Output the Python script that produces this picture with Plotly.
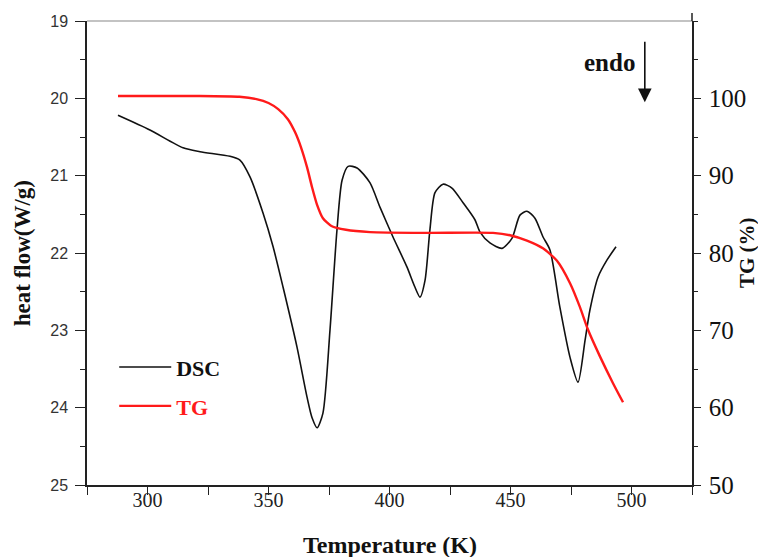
import plotly.graph_objects as go

# DSC curve (heat flow, W/g) vs temperature (K)
dsc_T = [287.8, 301.0, 314.7, 321.7, 334.1, 338.2, 342.4, 347.7, 351.9, 356.0,
         361.8, 365.9, 368.0, 370.1, 372.5, 375.4, 378.3, 380.4, 382.9, 386.6,
         391.9, 396.1, 401.4, 407.2, 410.5, 412.6, 414.7, 416.7, 418.8, 422.1,
         425.8, 430.4, 435.3, 437.4, 441.5, 446.5, 450.6, 453.9, 456.8, 460.1,
         463.4, 466.3, 470.4, 474.6, 477.9, 480.8, 482.8, 486.2, 489.9, 493.6]
dsc_HF = [20.22, 20.41, 20.64, 20.69, 20.75, 20.80, 21.02, 21.48, 21.92, 22.44,
          23.22, 23.86, 24.13, 24.26, 24.07, 23.00, 21.70, 21.06, 20.88, 20.90,
          21.09, 21.41, 21.79, 22.18, 22.44, 22.57, 22.35, 21.70, 21.22, 21.11,
          21.16, 21.35, 21.57, 21.73, 21.87, 21.94, 21.81, 21.51, 21.46, 21.55,
          21.79, 21.96, 22.70, 23.35, 23.67, 23.13, 22.74, 22.31, 22.09, 21.92]

# TG curve (%) vs temperature (K)
tg_T = [287.8, 320.0, 338.0, 345.0, 350.0, 354.0, 358.0, 361.0, 363.5, 366.0,
        368.0, 370.0, 372.5, 376.0, 382.0, 392.0, 415.5, 442.8, 449.8, 456.8,
        463.4, 469.2, 474.6, 478.7, 482.0, 487.0, 492.3, 496.5]
tg_pct = [100.3, 100.3, 100.2, 99.9, 99.4, 98.6, 97.3, 95.6, 93.6, 91.0,
          88.5, 86.3, 84.5, 83.5, 83.0, 82.7, 82.6, 82.6, 82.3, 81.6,
          80.6, 79.0, 76.1, 73.0, 70.1, 66.6, 63.2, 60.7]

x_ticks = [300, 350, 400, 450, 500]
hf_ticks = [19, 20, 21, 22, 23, 24, 25]
tg_ticks = [50, 60, 70, 80, 90, 100]

serif = "Liberation Serif, Times New Roman, serif"
sans = "Liberation Sans, Arial, sans-serif"

fig = go.Figure()
fig.add_trace(go.Scatter(x=dsc_T, y=dsc_HF, mode="lines", name="<b>DSC</b>",
                         line=dict(color="#111111", width=1.6, shape="spline", smoothing=0.7),
                         yaxis="y", legend="legend"))
fig.add_trace(go.Scatter(x=tg_T, y=tg_pct, mode="lines",
                         name="<span style='color:#ff1a1a'><b>TG</b></span>",
                         line=dict(color="#ff1a1a", width=2.4, shape="spline", smoothing=0.6),
                         yaxis="y2", legend="legend2"))

fig.update_layout(
    width=758, height=549,
    margin=dict(l=79, r=74, t=13, b=72),
    plot_bgcolor="white", paper_bgcolor="white",
    showlegend=True,
    xaxis=dict(
        range=[275, 525], tickvals=x_ticks, ticks="outside", ticklen=8, tickwidth=1.3,
        tickcolor="#222", showline=True, linecolor="#222", linewidth=1.5,
        showgrid=False, zeroline=False, automargin=False,
        minor=dict(dtick=25, ticks="outside", ticklen=8, tickwidth=1.3, tickcolor="#222", showgrid=False),
        tickfont=dict(family=serif, size=20, color="#222"),
        ticklabelstandoff=-12,
    ),
    yaxis=dict(
        range=[25, 19], tickvals=hf_ticks, ticks="outside", ticklen=10, tickwidth=1.3,
        tickcolor="#222", showline=True, linecolor="#222", linewidth=1.5,
        showgrid=False, zeroline=False, automargin=False,
        minor=dict(dtick=0.5, ticks="outside", ticklen=5, tickwidth=1.3, tickcolor="#222", showgrid=False),
        tickfont=dict(family=sans, size=16, color="#333"),
        ticklabelstandoff=4,
    ),
    yaxis2=dict(
        range=[50, 110], overlaying="y", side="right", tickvals=tg_ticks, ticks="outside",
        ticklen=7, tickwidth=1.3, tickcolor="#222", showline=True, linecolor="#222", linewidth=1.5,
        showgrid=False, zeroline=False, automargin=False,
        minor=dict(dtick=5, ticks="outside", ticklen=4, tickwidth=1.3, tickcolor="#222", showgrid=False),
        tickfont=dict(family=serif, size=25, color="#111"),
        ticklabelstandoff=3,
    ),
    legend=dict(x=0.045, y=0.254, xanchor="left", yanchor="middle", bgcolor="rgba(0,0,0,0)",
                font=dict(family=serif, size=22, color="#111"), itemwidth=52),
    legend2=dict(x=0.045, y=0.170, xanchor="left", yanchor="middle", bgcolor="rgba(0,0,0,0)",
                 font=dict(family=serif, size=22, color="#ff1a1a"), itemwidth=52),
    shapes=[
        dict(type="line", xref="paper", yref="paper", x0=0, x1=1, y0=1, y1=1,
             line=dict(color="#888", width=1.2)),
        dict(type="line", xref="paper", yref="paper", x0=1, x1=1, y0=1, y1=1.017,
             line=dict(color="#222", width=1.5)),
    ],
    annotations=[
        dict(text="<b>Temperature (K)</b>", xref="paper", yref="paper", x=0.5, y=-0.129,
             xanchor="center", yanchor="middle", showarrow=False,
             font=dict(family=serif, size=24, color="#111")),
        dict(text="<b>heat flow(W/g)</b>", xref="paper", yref="paper", x=-0.107, y=0.5,
             xanchor="center", yanchor="middle", showarrow=False, textangle=-90,
             font=dict(family=serif, size=23, color="#111")),
        dict(text="<b>TG (%)</b>", xref="paper", yref="paper", x=1.091, y=0.5,
             xanchor="center", yanchor="middle", showarrow=False, textangle=-90,
             font=dict(family=serif, size=21, color="#111")),
        dict(text="<b>endo</b>", xref="paper", yref="paper", x=0.909, y=0.911,
             xanchor="right", yanchor="middle", showarrow=False,
             font=dict(family=serif, size=25, color="#111")),
        dict(text="", xref="paper", yref="paper", x=0.922, y=0.825, ax=0, ay=-62,
             showarrow=True, arrowhead=2, arrowsize=1.7, arrowwidth=1.6, arrowcolor="#111"),
    ],
)

fig.write_html("out.html")
